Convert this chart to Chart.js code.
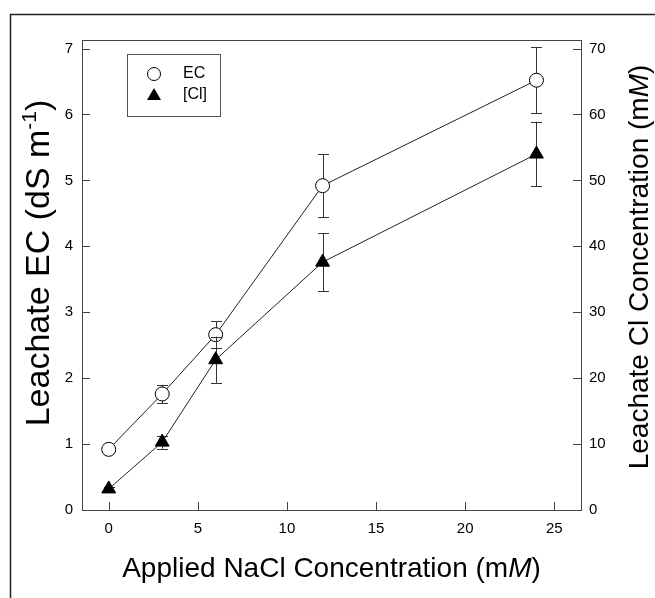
<!DOCTYPE html>
<html>
<head>
<meta charset="utf-8">
<script src="https://cdn.jsdelivr.net/npm/chart.js@4/dist/chart.umd.min.js"></script>
<style>
  html, body { margin: 0; padding: 0; background: #fff; }
</style>
</head>
<body>
<canvas id="chart" width="655" height="598"></canvas>
<script>
// values
const naclLevels = [0, 3, 6, 12, 24];
const ecValues = [0.92, 1.76, 2.66, 4.92, 6.52];
const ecErrors = [0.04, 0.14, 0.2, 0.48, 0.5];
const clValues = [3.2, 10.3, 22.8, 37.6, 54.0];
const clErrors = [0.3, 1.0, 3.5, 4.4, 4.9];
const xTicks = [0, 5, 10, 15, 20, 25];
const ecTicks = [0, 1, 2, 3, 4, 5, 6, 7];
const clTicks = [0, 10, 20, 30, 40, 50, 60, 70];

const FONT = '"Liberation Sans", Arial, sans-serif';
const errorsByDataset = [ecErrors, clErrors];

function toPoints(xs, ys) {
    return xs.map((x, i) => ({ x: x, y: ys[i] }));
}

// draws mixed text (italic / superscript pieces) centred on cx,cy
function drawSegments(ctx, segs, cx, cy, angle) {
    ctx.save();
    ctx.translate(cx, cy);
    ctx.rotate(angle);
    ctx.textBaseline = 'alphabetic';
    ctx.textAlign = 'left';
    let total = 0;
    segs.forEach(s => {
        ctx.font = s.font;
        s.w = ctx.measureText(s.text).width;
        total += s.w;
    });
    let x = -total / 2;
    segs.forEach(s => {
        ctx.font = s.font;
        ctx.fillStyle = '#000';
        ctx.fillText(s.text, x, s.rise ? -s.rise : 0);
        x += s.w;
    });
    ctx.restore();
}

const errorBars = {
    id: 'errorBars',
    beforeDatasetDraw(chart, args) {
        const errs = errorsByDataset[args.index];
        if (!errs) return;
        const ds = chart.data.datasets[args.index];
        const yScale = chart.scales[ds.yAxisID];
        const ctx = chart.ctx;
        ctx.save();
        ctx.strokeStyle = '#333';
        ctx.lineWidth = 1;
        args.meta.data.forEach((pt, i) => {
            const v = ds.data[i].y;
            const top = yScale.getPixelForValue(v + errs[i]);
            const bot = yScale.getPixelForValue(v - errs[i]);
            const x = Math.round(pt.x) + 0.5;
            ctx.beginPath();
            ctx.moveTo(x, top);
            ctx.lineTo(x, bot);
            ctx.moveTo(x - 5.5, Math.round(top) + 0.5);
            ctx.lineTo(x + 5.5, Math.round(top) + 0.5);
            ctx.moveTo(x - 5.5, Math.round(bot) + 0.5);
            ctx.lineTo(x + 5.5, Math.round(bot) + 0.5);
            ctx.stroke();
        });
        ctx.restore();
    }
};

const frameAndTicks = {
    id: 'frameAndTicks',
    beforeDraw(chart) {
        const ctx = chart.ctx;
        ctx.save();
        ctx.strokeStyle = '#222';
        ctx.lineWidth = 1.5;
        ctx.beginPath();
        ctx.moveTo(10.5, 598);
        ctx.lineTo(10.5, 14.5);
        ctx.lineTo(655, 14.5);
        ctx.stroke();
        ctx.restore();
    },
    afterDraw(chart) {
        const ctx = chart.ctx;
        const a = chart.chartArea;
        ctx.save();
        ctx.strokeStyle = '#444';
        ctx.lineWidth = 1;
        ctx.beginPath();
        // top edge of the plot box
        ctx.moveTo(a.left, a.top + 0.5);
        ctx.lineTo(a.right, a.top + 0.5);
        // inward ticks
        chart.scales.x.ticks.forEach(t => {
            const px = Math.round(chart.scales.x.getPixelForValue(t.value)) + 0.5;
            ctx.moveTo(px, a.bottom);
            ctx.lineTo(px, a.bottom - 8);
        });
        chart.scales.y.ticks.forEach(t => {
            const py = Math.round(chart.scales.y.getPixelForValue(t.value)) + 0.5;
            ctx.moveTo(a.left, py);
            ctx.lineTo(a.left + 8, py);
        });
        chart.scales.y2.ticks.forEach(t => {
            const py = Math.round(chart.scales.y2.getPixelForValue(t.value)) + 0.5;
            ctx.moveTo(a.right, py);
            ctx.lineTo(a.right - 8, py);
        });
        ctx.stroke();

        // legend box
        ctx.strokeStyle = '#555';
        ctx.strokeRect(127.5, 54.5, 93, 62);
        ctx.fillStyle = '#fff';
        ctx.strokeStyle = '#000';
        ctx.beginPath();
        ctx.arc(154, 74, 6.5, 0, Math.PI * 2);
        ctx.fill();
        ctx.stroke();
        ctx.fillStyle = '#000';
        ctx.beginPath();
        ctx.moveTo(154, 88);
        ctx.lineTo(161, 100);
        ctx.lineTo(147, 100);
        ctx.closePath();
        ctx.fill();
        ctx.font = '16px ' + FONT;
        ctx.textBaseline = 'middle';
        ctx.textAlign = 'left';
        ctx.fillText('EC', 183, 74);
        ctx.fillText('[Cl]', 183, 95);
        ctx.restore();

        // axis titles
        const big = '28px ' + FONT;
        const bigIt = 'italic 28px ' + FONT;
        drawSegments(ctx, [
            { text: 'Applied NaCl Concentration (m', font: big },
            { text: 'M', font: bigIt },
            { text: ')', font: big }
        ], (a.left + a.right) / 2, 577, 0);
        drawSegments(ctx, [
            { text: 'Leachate EC (dS m', font: '34px ' + FONT },
            { text: '-1', font: '21px ' + FONT, rise: 13 },
            { text: ')', font: '34px ' + FONT }
        ], 49, 263, -Math.PI / 2);
        drawSegments(ctx, [
            { text: 'Leachate Cl Concentration (m', font: big },
            { text: 'M', font: bigIt },
            { text: ')', font: big }
        ], 648, 267, -Math.PI / 2);
    }
};

const ctx = document.getElementById('chart').getContext('2d');
new Chart(ctx, {
    type: 'line',
    data: {
        datasets: [{
            label: 'EC',
            data: toPoints(naclLevels, ecValues),
            yAxisID: 'y',
            order: 1,
            borderColor: '#222',
            borderWidth: 1,
            pointStyle: 'circle',
            pointRadius: 7,
            pointBackgroundColor: '#fff',
            pointBorderColor: '#000',
            pointBorderWidth: 1,
            tension: 0
        }, {
            label: '[Cl]',
            data: toPoints(naclLevels, clValues),
            yAxisID: 'y2',
            order: 0,
            borderColor: '#222',
            borderWidth: 1,
            pointStyle: 'triangle',
            pointRadius: 8,
            pointBackgroundColor: '#000',
            pointBorderColor: '#000',
            pointBorderWidth: 1,
            tension: 0
        }]
    },
    options: {
        responsive: false,
        animation: false,
        devicePixelRatio: 1,
        layout: { padding: { top: 40, left: 0, right: 0, bottom: 0 } },
        plugins: { legend: { display: false }, tooltip: { enabled: false } },
        scales: {
            x: {
                type: 'linear',
                min: -1.5,
                max: 26.5,
                afterBuildTicks: s => { s.ticks = xTicks.map(v => ({ value: v })); },
                afterFit: s => { s.height = 88; },
                grid: { display: false, drawTicks: false },
                border: { display: true, color: '#444', width: 1 },
                ticks: { padding: 10, color: '#000', font: { family: FONT, size: 15 } }
            },
            y: {
                position: 'left',
                min: 0,
                max: 7.13,
                afterBuildTicks: s => { s.ticks = ecTicks.map(v => ({ value: v })); },
                afterFit: s => { s.width = 82; },
                grid: { display: false, drawTicks: false },
                border: { display: true, color: '#444', width: 1 },
                ticks: { padding: 9, color: '#000', font: { family: FONT, size: 15 } }
            },
            y2: {
                position: 'right',
                min: 0,
                max: 71.3,
                afterBuildTicks: s => { s.ticks = clTicks.map(v => ({ value: v })); },
                afterFit: s => { s.width = 74; },
                grid: { display: false, drawTicks: false },
                border: { display: true, color: '#444', width: 1 },
                ticks: { padding: 8, color: '#000', font: { family: FONT, size: 15 } }
            }
        }
    },
    plugins: [errorBars, frameAndTicks]
});
</script>
</body>
</html>
